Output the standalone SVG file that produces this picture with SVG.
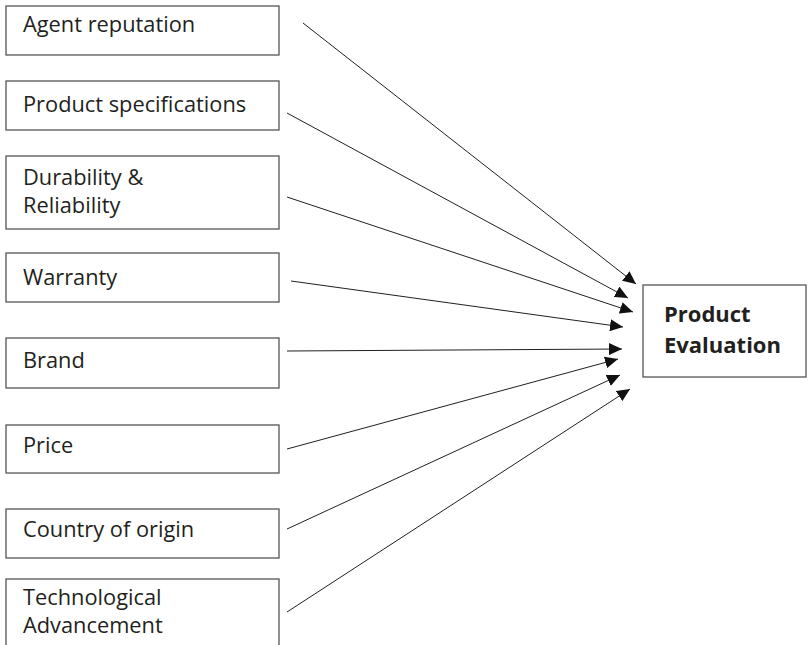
<svg xmlns="http://www.w3.org/2000/svg" width="809" height="645" viewBox="0 0 809 645">
<style>
.box{fill:#fff;stroke:#555;stroke-width:1.3}
.lbl{font-family:"Open Sans","DejaVu Sans",sans-serif;font-size:21.8px;fill:#231f20}
.bold{font-family:"Open Sans","DejaVu Sans",sans-serif;font-size:22px;font-weight:bold;fill:#231f20}
.conn{stroke:#231f20;stroke-width:1;fill:none;marker-end:url(#ah)}
</style>
<defs>
<marker id="ah" markerUnits="userSpaceOnUse" markerWidth="14" markerHeight="12" refX="13" refY="6" orient="auto">
<path d="M0,0 L13,6 L0,12 Z" fill="#111"/>
</marker>
</defs>
<rect width="809" height="645" fill="#fff"/>
<g id="agent"><rect class="box" x="6" y="6" width="273" height="49"/><text class="lbl" x="23" y="32">Agent reputation</text></g>
<g id="specs"><rect class="box" x="6" y="81" width="273" height="49"/><text class="lbl" x="23" y="112">Product specifications</text></g>
<g id="durability"><rect class="box" x="6" y="156" width="273" height="73"/><text class="lbl" x="23" y="185">Durability &amp;</text><text class="lbl" x="23" y="213">Reliability</text></g>
<g id="warranty"><rect class="box" x="6" y="253" width="273" height="49"/><text class="lbl" x="23" y="285">Warranty</text></g>
<g id="brand"><rect class="box" x="6" y="338" width="273" height="50"/><text class="lbl" x="23" y="368">Brand</text></g>
<g id="price"><rect class="box" x="6" y="425" width="273" height="48"/><text class="lbl" x="23" y="453">Price</text></g>
<g id="country"><rect class="box" x="6" y="509" width="273" height="49"/><text class="lbl" x="23" y="537">Country of origin</text></g>
<g id="tech"><rect class="box" x="6" y="579" width="273" height="80"/><text class="lbl" x="23" y="605">Technological</text><text class="lbl" x="23" y="633">Advancement</text></g>
<g id="evaluation"><rect class="box" x="643" y="285" width="163" height="92"/><text class="bold" x="664" y="322">Product</text><text class="bold" x="664" y="353">Evaluation</text></g>
<g id="connectors">
<line class="conn" x1="303" y1="23" x2="636" y2="284"/>
<line class="conn" x1="287" y1="113" x2="628" y2="298"/>
<line class="conn" x1="287" y1="197" x2="633" y2="312"/>
<line class="conn" x1="291" y1="281" x2="623" y2="327"/>
<line class="conn" x1="287" y1="351" x2="622" y2="349"/>
<line class="conn" x1="287" y1="449" x2="618" y2="359"/>
<line class="conn" x1="287" y1="529" x2="620" y2="375"/>
<line class="conn" x1="287" y1="612" x2="630" y2="389"/>
</g>
</svg>
